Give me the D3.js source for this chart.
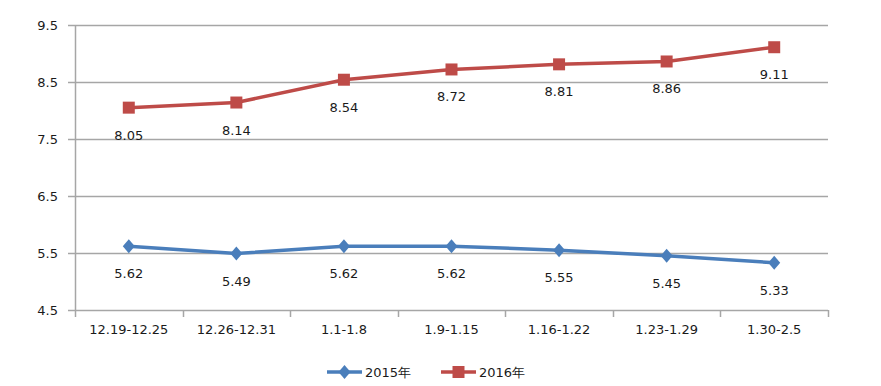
<!DOCTYPE html>
<html>
<head>
<meta charset="utf-8">
<script src="https://cdn.jsdelivr.net/npm/d3@7"></script>
<style>
  body { margin: 0; background: #fff; }
  text { font-family: "DejaVu Sans", Verdana, sans-serif; font-size: 13px; fill: #1a1a1a; }
</style>
</head>
<body>
<div id="chart"></div>
<script>
// data
const categories = ["12.19-12.25", "12.26-12.31", "1.1-1.8", "1.9-1.15", "1.16-1.22", "1.23-1.29", "1.30-2.5"];
const values2015 = [5.62, 5.49, 5.62, 5.62, 5.55, 5.45, 5.33];
const values2016 = [8.05, 8.14, 8.54, 8.72, 8.81, 8.86, 9.11];
const yTicks = [4.5, 5.5, 6.5, 7.5, 8.5, 9.5];
const seriesNames = ["2015年", "2016年"];

const width = 881, height = 386;
const margin = {top: 25, right: 53, bottom: 76, left: 75};
const innerW = width - margin.left - margin.right;
const innerH = height - margin.top - margin.bottom;

const blue = "#4a7ebb", red = "#be4b48", grid = "#a6a6a6";

const svg = d3.select("#chart").append("svg")
    .attr("width", width)
    .attr("height", height);

const g = svg.append("g")
    .attr("transform", "translate(" + margin.left + "," + margin.top + ")");

let x = d3.scaleBand().domain(categories).range([0, innerW]);
let y = d3.scaleLinear().domain([4.5, 9.5]).range([innerH, 0]);

// horizontal grid lines
g.selectAll(".grid")
    .data(yTicks)
    .enter().append("line")
    .attr("x1", -7)
    .attr("x2", innerW)
    .attr("y1", d => Math.round(y(d)) + 0.5)
    .attr("y2", d => Math.round(y(d)) + 0.5)
    .attr("stroke", grid)
    .attr("stroke-width", 1.5);

// y axis
let yAxis = g.append("g")
    .call(d3.axisLeft(y).tickValues(yTicks).tickFormat(d3.format(".1f")).tickSize(0).tickPadding(17));
yAxis.select(".domain").attr("stroke", grid).attr("stroke-width", 1.5);

// x axis
let xAxis = g.append("g")
    .attr("transform", "translate(0," + innerH + ")")
    .call(d3.axisBottom(x).tickSize(0).tickPadding(17));
xAxis.select(".domain").remove();
xAxis.selectAll("text").attr("dy", "0.5em");

// category separator ticks
g.selectAll(".xtick")
    .data(d3.range(categories.length + 1))
    .enter().append("line")
    .attr("x1", i => Math.round(i * x.step()) + 0.5)
    .attr("x2", i => Math.round(i * x.step()) + 0.5)
    .attr("y1", innerH)
    .attr("y2", innerH + 7)
    .attr("stroke", grid)
    .attr("stroke-width", 1.5);

g.selectAll(".domain, .tick line").attr("stroke", grid);
g.selectAll(".tick text").style("font-size", "13px").attr("fill", "#1a1a1a");

const cx = d => x(d) + x.bandwidth() / 2;

const line = d3.line()
    .x((d, i) => cx(categories[i]))
    .y(d => y(d));

function drawSeries(vals, color, shape) {
    g.append("path")
        .datum(vals)
        .attr("fill", "none")
        .attr("stroke", color)
        .attr("stroke-width", 3.5)
        .attr("d", line);

    g.selectAll(".m" + color.slice(1))
        .data(vals)
        .enter().append("path")
        .attr("transform", (d, i) => "translate(" + cx(categories[i]) + "," + y(d) + ")")
        .attr("fill", color)
        .attr("d", shape);

    g.selectAll(".l" + color.slice(1))
        .data(vals)
        .enter().append("text")
        .attr("x", (d, i) => cx(categories[i]))
        .attr("y", d => y(d) + 32)
        .attr("text-anchor", "middle")
        .text(d => d.toFixed(2));
}

const diamond = "M0,-7L6,0L0,7L-6,0Z";
const square = "M-6,-6H6V6H-6Z";

drawSeries(values2015, blue, diamond);
drawSeries(values2016, red, square);

// legend
const legend = svg.append("g").attr("transform", "translate(0,372)");
const legendItems = [
    {name: seriesNames[0], color: blue, shape: diamond, x: 327},
    {name: seriesNames[1], color: red, shape: square, x: 441}
];
legendItems.forEach(function (it) {
    legend.append("line")
        .attr("x1", it.x).attr("x2", it.x + 35)
        .attr("y1", 0).attr("y2", 0)
        .attr("stroke", it.color)
        .attr("stroke-width", 3.5);
    legend.append("path")
        .attr("transform", "translate(" + (it.x + 17.5) + ",0)")
        .attr("fill", it.color)
        .attr("d", it.shape);
    legend.append("text")
        .attr("x", it.x + 38)
        .attr("y", 0)
        .attr("dy", "0.35em")
        .text(it.name);
});
</script>
</body>
</html>
